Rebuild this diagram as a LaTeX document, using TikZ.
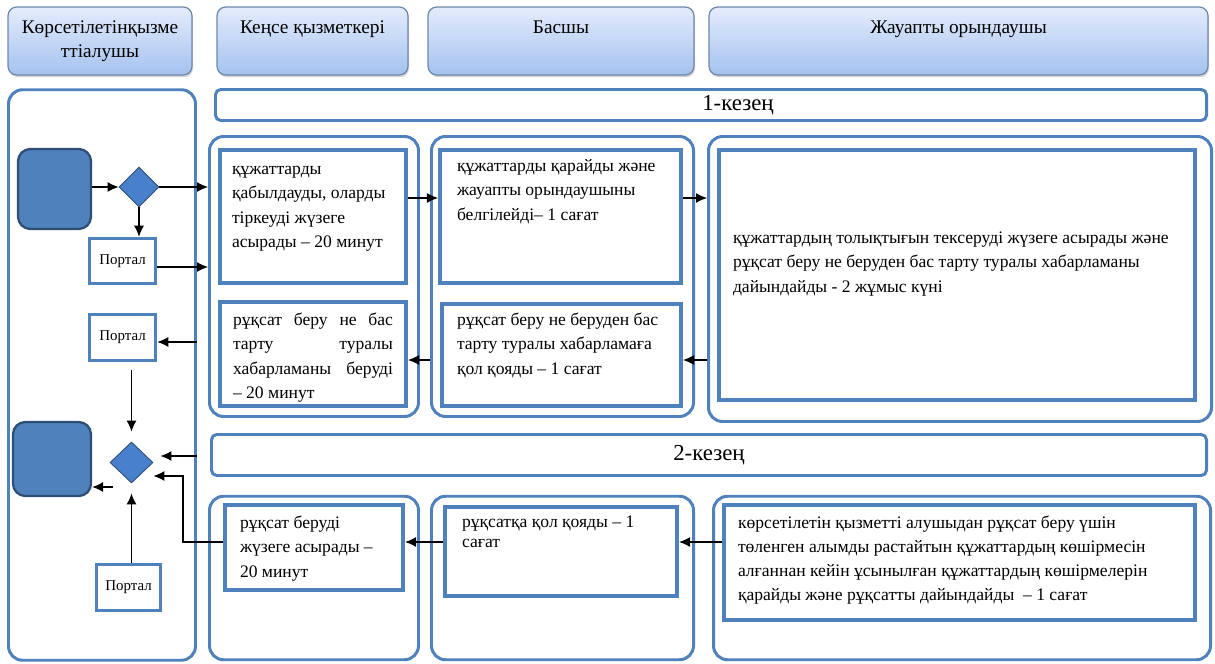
\documentclass[tikz,border=0pt]{standalone}
\usepackage{fontspec}
\setmainfont{Liberation Serif}
\usepackage{xcolor}
\usepackage{tikz}
\usetikzlibrary{shapes.geometric, arrows.meta, positioning, shadows}

\definecolor{laneblue}{RGB}{79,129,189}
\definecolor{darkblue}{RGB}{46,78,118}
\definecolor{choiceblue}{RGB}{72,128,204}
\definecolor{headtop}{RGB}{228,236,251}
\definecolor{headbot}{RGB}{164,194,240}
\definecolor{headline}{RGB}{110,135,170}

% text block at the top of a box
\newcommand{\boxtext}[3]{\parbox[c][#1][t]{#2}{\strut#3}}

\begin{document}
\begin{tikzpicture}[
    font=\fontsize{10}{13.9}\selectfont,
    head/.style={rectangle, draw=headline, line width=0.7pt, top color=headtop, bottom color=headbot, rounded corners=5pt, minimum height=1.36cm, align=center, font=\fontsize{11}{13.6}\selectfont, drop shadow={opacity=0.35, shadow xshift=0.6pt, shadow yshift=-1.2pt}},
    hdup/.style={text height=0.25cm, text depth=0.53cm},
    lane/.style={rectangle, draw=laneblue, line width=1.7pt, rounded corners=8pt, inner sep=0pt},
    stage/.style={rectangle, draw=laneblue, line width=1.7pt, rounded corners=3pt, inner sep=1pt, font=\fontsize{13}{15}\selectfont},
    inbox/.style={rectangle, draw=laneblue, line width=2.3pt, fill=white, inner sep=0pt},
    portal/.style={rectangle, draw=laneblue, line width=2pt, fill=white, inner sep=0pt, font=\fontsize{8.5}{10}\selectfont},
    term/.style={rectangle, draw=darkblue, fill=laneblue, line width=1.3pt, rounded corners=7pt},
    choice/.style={diamond, draw=darkblue, fill=choiceblue, line width=0.5pt, inner sep=0pt},
    arrow/.style={-{Latex[length=2.2mm, width=2mm]}, line width=0.7pt}
]
\useasboundingbox (0,0) rectangle (24.3,-13.28);

% Headers
\node[head, minimum width=3.68cm] (h1) at (2.0,-0.82) {Көрсетілетінқызме\\ттіалушы};
\node[head, hdup, minimum width=3.82cm] (h2) at (6.25,-0.82) {Кеңсе қызметкері};
\node[head, hdup, minimum width=5.32cm] (h3) at (11.22,-0.82) {Басшы};
\node[head, hdup, minimum width=9.98cm] (h4) at (19.17,-0.82) {Жауапты орындаушы};

% Lane of the service receiver and stage bars
\node[lane, minimum width=3.74cm, minimum height=11.41cm] (lane) at (2.04,-7.5) {};
\node[stage, minimum width=19.82cm, minimum height=0.62cm] (k1) at (14.22,-2.1) {\hspace*{1.08cm}1-кезең};
\node[stage, minimum width=19.9cm, minimum height=0.82cm] (k2) at (14.18,-9.1) {2-кезең};

% Group boxes
\node[lane, minimum width=4.18cm, minimum height=5.6cm] (ga) at (6.28,-5.53) {};
\node[lane, minimum width=5.24cm, minimum height=5.6cm] (gb) at (11.25,-5.53) {};
\node[lane, minimum width=10.06cm, minimum height=5.7cm] (gc) at (19.2,-5.58) {};
\node[lane, minimum width=4.18cm, minimum height=3.27cm] (gd) at (6.28,-11.56) {};
\node[lane, minimum width=5.24cm, minimum height=3.27cm] (ge) at (11.25,-11.56) {};
\node[lane, minimum width=9.94cm, minimum height=3.27cm] (gf) at (19.24,-11.56) {};

% Stage 1 steps
\node[inbox, minimum width=3.72cm, minimum height=2.66cm] (a1) at (6.26,-4.33)
    {\boxtext{2.37cm}{3.24cm}{құжаттарды\\қабылдауды, оларды\\тіркеуді жүзеге\\асырады – 20 минут}};
\node[inbox, minimum width=3.72cm, minimum height=2.08cm] (a2) at (6.26,-7.08)
    {\boxtext{1.83cm}{3.2cm}{рұқсат беру не бас\linebreak тарту туралы\linebreak хабарламаны беруді\linebreak – 20 минут}};
\node[inbox, minimum width=4.82cm, minimum height=2.66cm] (b1) at (11.21,-4.33)
    {\boxtext{2.49cm}{4.14cm}{құжаттарды қарайды және\\жауапты орындаушыны\\белгілейді– 1 сағат}};
\node[inbox, minimum width=4.78cm, minimum height=2.04cm] (b2) at (11.23,-7.1)
    {\boxtext{1.87cm}{4.18cm}{рұқсат беру не беруден бас\\тарту туралы хабарламаға\\қол қояды – 1 сағат}};
\node[inbox, minimum width=9.52cm, minimum height=5.0cm] (c1) at (19.14,-5.5)
    {\boxtext{1.95cm}{8.96cm}{құжаттардың толықтығын тексеруді жүзеге асырады және\\рұқсат беру не беруден бас тарту туралы хабарламаны\\дайындайды - 2 жұмыс күні}};

% Stage 2 steps
\node[inbox, minimum width=3.56cm, minimum height=1.7cm] (dd) at (6.28,-10.95)
    {\boxtext{1.45cm}{2.96cm}{рұқсат беруді\\жүзеге асырады –\\20 минут}};
\node[inbox, minimum width=4.64cm, minimum height=1.78cm, font=\fontsize{10}{11.4}\selectfont] (e1) at (11.22,-11.03)
    {\boxtext{1.54cm}{3.96cm}{рұқсатқа қол қояды – 1\\сағат}};
\node[inbox, minimum width=9.42cm, minimum height=2.3cm, font=\fontsize{10}{13.6}\selectfont] (f1) at (19.19,-11.25)
    {\boxtext{2.01cm}{8.86cm}{көрсетілетін қызметті алушыдан рұқсат беру үшін\\төленген алымды растайтын құжаттардың көшірмесін\\алғаннан кейін ұсынылған құжаттардың көшірмелерін\\қарайды және рұқсатты дайындайды~~– 1 сағат}};

% Service receiver lane
\node[term, minimum width=1.46cm, minimum height=1.6cm] (start) at (1.09,-3.78) {};
\node[choice, minimum width=0.8cm, minimum height=0.8cm] (dia1) at (2.78,-3.74) {};
\node[portal, minimum width=1.32cm, minimum height=0.9cm] (p1) at (2.45,-5.22) {Портал};
\node[portal, minimum width=1.32cm, minimum height=0.92cm] (p2) at (2.45,-6.75) {Портал};
\node[choice, minimum width=0.86cm, minimum height=0.82cm] (dia2) at (2.63,-9.25) {};
\node[term, minimum width=1.56cm, minimum height=1.48cm] (finish) at (1.04,-9.18) {};
\node[portal, minimum width=1.28cm, minimum height=0.92cm] (p3) at (2.57,-11.75) {Портал};

% Arrows in the receiver lane
\draw[arrow] (start.east |- dia1.west) -- (dia1.west);
\draw[arrow] (dia1.east) -- (dia1.east -| ga.west);
\draw[arrow] (dia1.south) -- (dia1.south |- p1.north);
\draw[arrow] ([yshift=-0.12cm]p1.east) -- ([yshift=-0.12cm]p1.east -| ga.west);
\draw[arrow] ([yshift=-0.09cm]p2.east -| lane.east) -- ([yshift=-0.09cm]p2.east);
\draw[arrow] ([yshift=-0.16cm]p2.south -| dia2.north) -- ([yshift=0.2cm]dia2.north);
\draw[arrow] ([yshift=0.13cm]dia2.east -| lane.east) -- ([shift={(0.14,0.13)}]dia2.east);
\draw[arrow] ([yshift=0.11cm]dd.west) -- ++(-0.8,0) |- ([yshift=-0.27cm]dia2.east);
\draw[arrow] (p3.north -| dia2.south) -- ([yshift=-0.2cm]dia2.south);
\coordinate (d2out) at ([shift={(-0.37,-0.49)}]dia2.center);
\draw[arrow] (d2out) -- (d2out -| finish.east);

% Arrows between steps
\draw[arrow] ([yshift=0.37cm]a1.east) -- ([yshift=0.37cm]a1.east -| b1.west);
\draw[arrow] ([yshift=0.37cm]b1.east) -- ([yshift=0.37cm]b1.east -| gc.west);
\draw[arrow] ([yshift=-0.1cm]b2.east -| gc.west) -- ([yshift=-0.1cm]b2.east);
\draw[arrow] ([yshift=-0.1cm]b2.west -| gb.west) -- ([yshift=-0.1cm]b2.west -| a2.east);
\draw[arrow] ([yshift=0.41cm]f1.west) -- ([yshift=0.41cm]f1.west -| e1.east);
\draw[arrow] ([yshift=0.11cm]dd.east -| e1.west) -- ([yshift=0.11cm]dd.east);
\end{tikzpicture}
\end{document}
